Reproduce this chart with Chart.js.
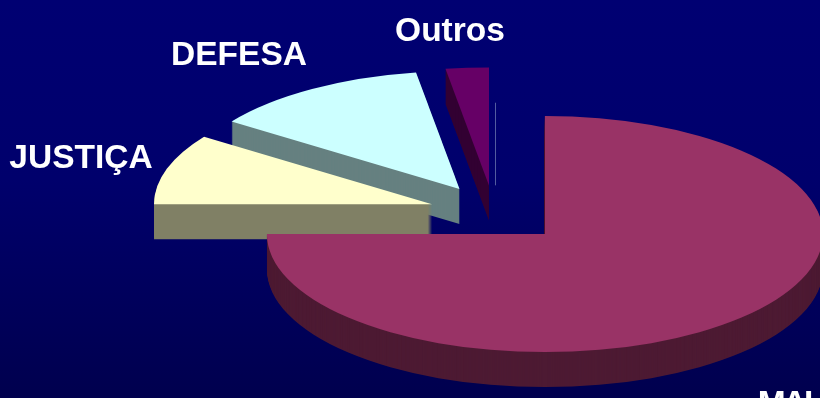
<!DOCTYPE html>
<html lang="pt">
<head>
<meta charset="utf-8">
<title>Despesa por ministério</title>
<script src="https://cdn.jsdelivr.net/npm/chart.js@4/dist/chart.umd.min.js"></script>
<style>
    html, body { margin: 0; padding: 0; width: 820px; height: 398px; overflow: hidden; }
    body { background: linear-gradient(to bottom, #000072 0%, #00006c 45%, #00004e 100%); }
    #pieChart { display: block; }
</style>
</head>
<body>
<canvas id="pieChart" width="820" height="398"></canvas>
<script>
const categories = ['MAI', 'JUSTIÇA', 'DEFESA', 'Outros', ''];
const shares = [75, 9.7, 12.8, 2.5, 0];

const topColors = ['#993366', '#ffffcc', '#ccffff', '#660066', '#7382b4'];
const sideColors = ['#4d1a33', '#808066', '#668080', '#330033', '#7382b4'];
const sliceOffsets = [72, 65, 65, 64, 64];

const TILT = 0.4245;   // vertical squash of the pie
const DEPTH = 35;      // height of the extruded side

// where each category name sits on the canvas
const labelSpots = {
    'MAI': { x: 784, y: 414, spacing: '-3px' },
    'JUSTIÇA': { x: 81, y: 168, spacing: '0px' },
    'DEFESA': { x: 239, y: 65, spacing: '0px' },
    'Outros': { x: 450, y: 41, spacing: '0px' }
};

function slicePath(ctx, arc) {
    const { x, y, startAngle, endAngle, outerRadius } = arc.getProps(['x', 'y', 'startAngle', 'endAngle', 'outerRadius']);
    const mid = (startAngle + endAngle) / 2;
    const cx = x + Math.cos(mid) * arc.options.offset;
    const cy = y + Math.sin(mid) * arc.options.offset;
    ctx.beginPath();
    ctx.moveTo(cx, cy);
    ctx.arc(cx, cy, outerRadius, startAngle, endAngle);
    ctx.closePath();
}

// zero-width slice only shows as a thin radial line
function drawSliver(ctx, arc, color) {
    const { x, y, startAngle, outerRadius } = arc.getProps(['x', 'y', 'startAngle', 'outerRadius']);
    const cx = x + Math.cos(startAngle) * arc.options.offset;
    const cy = y + Math.sin(startAngle) * arc.options.offset;
    ctx.strokeStyle = color;
    ctx.lineWidth = 1;
    ctx.beginPath();
    ctx.moveTo(cx + 1.5, cy);
    ctx.lineTo(cx + 1.5 + Math.cos(startAngle) * outerRadius * 0.7, cy + Math.sin(startAngle) * outerRadius * 0.7);
    ctx.stroke();
}

const tiltedPie = {
    id: 'tiltedPie',
    beforeDatasetsDraw(chart) {
        const ctx = chart.ctx;
        const arcs = chart.getDatasetMeta(0).data;
        const pivot = arcs[0].y;

        const tilt = function (dy) {
            ctx.setTransform(1, 0, 0, TILT, 0, pivot * (1 - TILT) + dy);
        };

        ctx.save();
        // back to front, so MAI ends up over everything else
        for (let i = arcs.length - 1; i >= 0; i--) {
            const arc = arcs[i];
            if (shares[i] === 0) {
                tilt(0);
                drawSliver(ctx, arc, topColors[i]);
                continue;
            }
            ctx.fillStyle = sideColors[i];
            for (let d = DEPTH; d > 0; d--) {
                tilt(d);
                slicePath(ctx, arc);
                ctx.fill();
            }
            tilt(0);
            ctx.fillStyle = topColors[i];
            slicePath(ctx, arc);
            ctx.fill();
        }
        ctx.restore();
        return false;
    },
    afterDraw(chart) {
        const ctx = chart.ctx;
        ctx.save();
        ctx.fillStyle = '#ffffff';
        ctx.font = 'bold 33.5px "Liberation Sans", Arial, sans-serif';
        ctx.textAlign = 'center';
        ctx.textBaseline = 'alphabetic';
        categories.forEach(function (name) {
            const spot = labelSpots[name];
            if (spot) {
                ctx.letterSpacing = spot.spacing;
                ctx.fillText(name, spot.x, spot.y);
            }
        });
        ctx.restore();
    }
};

new Chart(document.getElementById('pieChart'), {
    type: 'pie',
    data: {
        labels: categories,
        datasets: [{
            data: shares,
            backgroundColor: topColors,
            borderWidth: 0,
            offset: sliceOffsets
        }]
    },
    options: {
        responsive: false,
        animation: false,
        radius: 278,
        layout: { padding: { left: 168, top: 27 } },
        plugins: {
            legend: { display: false },
            tooltip: { enabled: false }
        }
    },
    plugins: [tiltedPie]
});
</script>
</body>
</html>
